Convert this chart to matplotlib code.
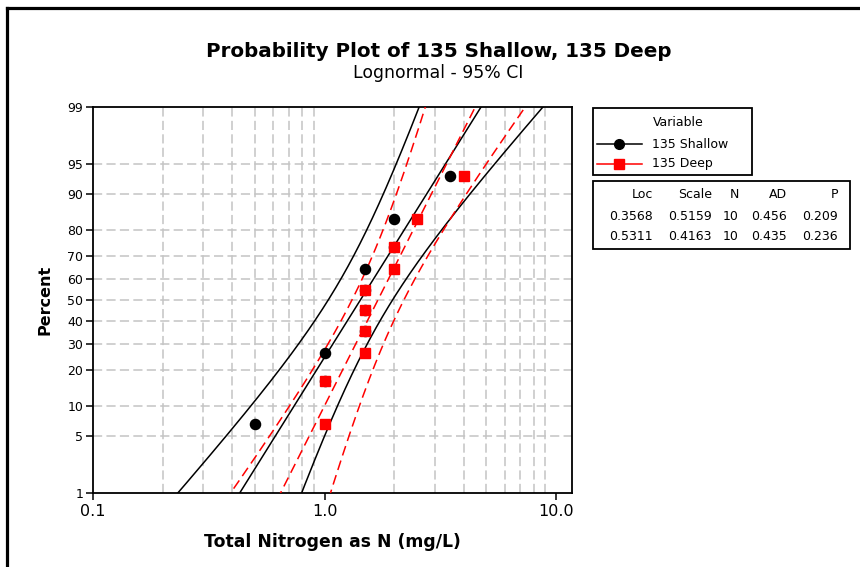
import numpy as np
import matplotlib
matplotlib.use("Agg")
import matplotlib.pyplot as plt
from matplotlib.lines import Line2D
from matplotlib.patches import Rectangle
from statistics import NormalDist

# ---------------- data ----------------
shallow_values = [0.5, 1.0, 1.0, 1.5, 1.5, 1.5, 1.5, 2.0, 2.0, 3.5]
deep_values = [1.0, 1.0, 1.5, 1.5, 1.5, 1.5, 2.0, 2.0, 2.5, 4.0]
plot_percent = [6.7, 16.3, 26.0, 35.6, 45.2, 54.8, 64.4, 74.0, 83.7, 93.3]

series_names = ["135 Shallow", "135 Deep"]
loc_values = [0.3568, 0.5311]
scale_values = [0.5159, 0.4163]
n_values = [10, 10]
ad_values = [0.456, 0.435]
p_values = [0.209, 0.236]

y_tick_percents = [1, 5, 10, 20, 30, 40, 50, 60, 70, 80, 90, 95, 99]
y_grid_percents = [5, 10, 20, 30, 40, 50, 60, 70, 80, 90, 95]
x_tick_values = [0.1, 1.0, 10.0]
x_tick_labels = ["0.1", "1.0", "10.0"]
x_grid_values = [0.2, 0.3, 0.4, 0.5, 0.6, 0.7, 0.8, 0.9,
                 2, 3, 4, 5, 6, 7, 8, 9]

# ---------------- setup ----------------
W, H = 860, 567
plt.rcParams['font.family'] = ['DejaVu Sans']
fig = plt.figure(figsize=(W / 100, H / 100), dpi=100)
fig.patch.set_facecolor("white")

def fx(x):
    return x / W

def fy(y):
    return 1 - y / H

nd = NormalDist()
zq = lambda p: nd.inv_cdf(p / 100.0)

L, R, T, B = 93, 572, 107, 493
ax = fig.add_axes([fx(L), fy(B), fx(R - L), (B - T) / H])
ax.set_xscale("log")
ax.set_xlim(0.1, 10 ** (1 + (R - 556) / 231.5))
ax.set_ylim(zq(1), zq(99))

# grid
for gx in x_grid_values:
    ax.axvline(gx, color="#c4c4c4", lw=1.1, dashes=(6, 2.8), zorder=1)
for gp in y_grid_percents:
    ax.axhline(zq(gp), color="#c4c4c4", lw=1.1, dashes=(6, 2.8), zorder=1)

# fitted lines and 95% CI bands
zz = np.linspace(zq(0.5), zq(99.5), 400)
colors = ["black", "red"]
for i in range(2):
    mu, sg, n = loc_values[i], scale_values[i], n_values[i]
    cen = mu + sg * zz
    se = sg * np.sqrt(1.0 / n + zz ** 2 / (2.0 * n))
    kw = dict(color=colors[i], lw=1.1, zorder=3)
    if i == 1:
        kw["dashes"] = (6.5, 3.5)
    ax.plot(np.exp(cen), zz, **kw)
    ax.plot(np.exp(cen - 1.96 * se), zz, **kw)
    ax.plot(np.exp(cen + 1.96 * se), zz, **kw)

zp = [zq(p) for p in plot_percent]
ax.plot(shallow_values, zp, linestyle="none", marker="o", ms=7.3,
        color="black", zorder=5, clip_on=False)
ax.plot(deep_values, zp, linestyle="none", marker="s", ms=7.0,
        color="red", mec="red", zorder=6, clip_on=False)

# ticks
ax.set_yticks([zq(p) for p in y_tick_percents])
ax.set_yticklabels([str(p) for p in y_tick_percents], fontsize=9)
ax.set_xticks(x_tick_values)
ax.set_xticklabels(x_tick_labels, fontsize=11.5)
ax.xaxis.set_minor_locator(matplotlib.ticker.NullLocator())
ax.tick_params(axis="both", direction="out", length=5, width=1.1, colors="black")
ax.tick_params(axis="y", pad=2)
ax.tick_params(axis="x", pad=3)
for s in ax.spines.values():
    s.set_linewidth(1.3)

# ---------------- texts ----------------
renderer = fig.canvas.get_renderer()

def fit_text(x, y, s, width, size0, **kw):
    t = fig.text(fx(x), fy(y), s, fontsize=size0, **kw)
    bb = t.get_window_extent(renderer)
    w = bb.width if kw.get("rotation", 0) == 0 else bb.height
    t.set_fontsize(size0 * width / w)
    return t

fit_text(439, 57, "Probability Plot of 135 Shallow, 135 Deep", 468, 14,
         ha="center", va="baseline", fontweight="bold")
fit_text(438, 78, "Lognormal - 95% CI", 170, 11, ha="center", va="baseline")
fit_text(332, 547, "Total Nitrogen as N (mg/L)", 255, 12,
         ha="center", va="baseline", fontweight="bold")
fit_text(45, 300, "Percent", 70, 12, ha="center", va="center",
         rotation=90, fontweight="bold")

# ---------------- legend box ----------------
fig.add_artist(Rectangle((fx(593), fy(175)), fx(752 - 593), (175 - 108) / H,
                         transform=fig.transFigure, fill=False, lw=1.3,
                         ec="black"))
fig.text(fx(678), fy(122), "Variable", fontsize=9, ha="center", va="center")
leg_y = [144, 164]
for i in range(2):
    fig.add_artist(Line2D([fx(597), fx(642)], [fy(leg_y[i])] * 2,
                          transform=fig.transFigure, color=colors[i], lw=1.1))
    fig.add_artist(Line2D([fx(619)], [fy(leg_y[i])],
                          transform=fig.transFigure, color=colors[i],
                          marker="o" if i == 0 else "s", ms=7,
                          linestyle="none"))
    fig.text(fx(652), fy(leg_y[i]), series_names[i], fontsize=9,
             ha="left", va="center")

# ---------------- table box ----------------
fig.add_artist(Rectangle((fx(593), fy(249)), fx(850 - 593), (249 - 181) / H,
                         transform=fig.transFigure, fill=False, lw=1.3,
                         ec="black"))
col_right = [653, 712, 739, 787, 838]
headers = ["Loc", "Scale", "N", "AD", "P"]
for j, h in enumerate(headers):
    fig.text(fx(col_right[j]), fy(195), h, fontsize=9, ha="right", va="center")
row_y = [217, 237]
for i in range(2):
    cells = [f"{loc_values[i]:.4f}", f"{scale_values[i]:.4f}",
             f"{n_values[i]}", f"{ad_values[i]:.3f}", f"{p_values[i]:.3f}"]
    for j, c in enumerate(cells):
        fig.text(fx(col_right[j]), fy(row_y[i]), c, fontsize=9,
                 ha="right", va="center")

# ---------------- outer frame ----------------
fig.add_artist(Line2D([fx(7), fx(7)], [fy(8), 0], transform=fig.transFigure,
                      color="black", lw=2.3))
fig.add_artist(Line2D([fx(7), 1], [fy(8), fy(8)], transform=fig.transFigure,
                      color="black", lw=2.3))

fig.savefig("out.png", dpi=100)
